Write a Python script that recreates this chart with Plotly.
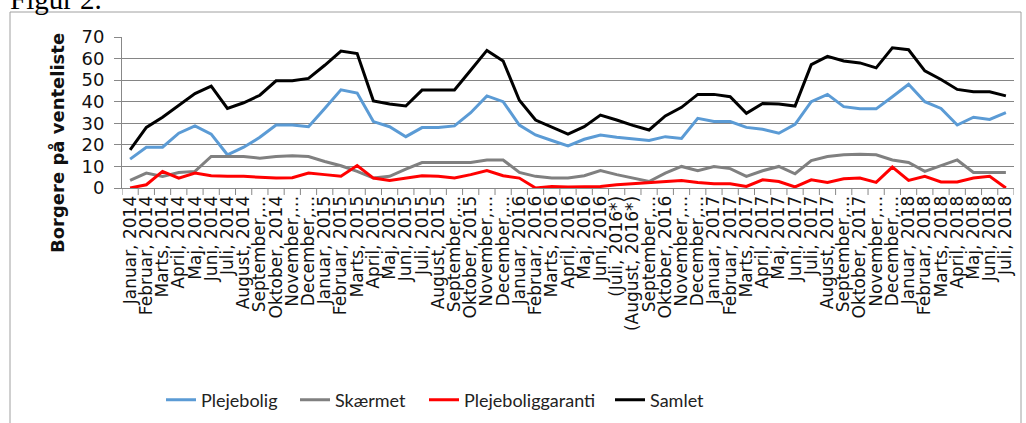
import plotly.graph_objects as go

categories = [
    "Januar, 2014", "Februar, 2014", "Marts, 2014", "April, 2014", "Maj, 2014", "Juni, 2014",
    "Juli, 2014", "August, 2014", "September,…", "Oktober, 2014", "November,…", "December,…",
    "Januar, 2015", "Februar, 2015", "Marts, 2015", "April, 2015", "Maj, 2015", "Juni, 2015",
    "Juli, 2015", "August, 2015", "September,…", "Oktober, 2015", "November,…", "December,…",
    "Januar, 2016", "Februar, 2016", "Marts, 2016", "April, 2016", "Maj, 2016", "Juni, 2016",
    "(Juli, 2016*)", "(August, 2016*)", "September,…", "Oktober, 2016", "November,…", "December,…",
    "Januar, 2017", "Februar, 2017", "Marts, 2017", "April, 2017", "Maj, 2017", "Juni, 2017",
    "Juli, 2017", "August, 2017", "September,…", "Oktober, 2017", "November,…", "December,…",
    "Januar, 2018", "Februar, 2018", "Marts, 2018", "April, 2018", "Maj, 2018", "Juni, 2018",
    "Juli, 2018",
]
x_idx = list(range(len(categories)))

plejebolig = [13.4, 18.9, 18.9, 25.4, 28.8, 25.0, 15.4, 18.9, 23.5, 29.2, 29.2, 28.4,
              36.9, 45.5, 44.0, 30.8, 28.4, 23.8, 28.0, 28.1, 28.8, 34.9, 42.7, 40.0,
              29.2, 24.6, 22.0, 19.5, 22.6, 24.6, 23.5, 22.6, 22.0, 23.8, 23.0, 32.3,
              30.8, 30.8, 28.1, 27.2, 25.4, 29.5, 40.0, 43.4, 37.7, 36.7, 36.7, 42.3,
              48.1, 40.0, 36.9, 29.2, 32.8, 31.8, 34.9]
skaermet = [3.5, 6.9, 5.4, 7.2, 7.7, 14.6, 14.6, 14.6, 13.8, 14.6, 14.9, 14.6,
            12.3, 10.3, 7.7, 4.6, 5.4, 8.8, 11.8, 11.8, 11.8, 11.8, 13.0, 13.0,
            7.2, 5.4, 4.6, 4.6, 5.7, 8.1, 6.2, 4.6, 3.0, 6.9, 10.0, 8.0,
            10.0, 9.0, 5.4, 8.0, 10.0, 6.6, 12.7, 14.6, 15.4, 15.6, 15.4, 13.0,
            11.8, 7.7, 10.3, 13.0, 7.2, 7.2, 7.2]
garanti = [0.0, 1.5, 7.7, 4.6, 6.9, 5.7, 5.4, 5.4, 5.0, 4.6, 4.8, 6.9,
           6.2, 5.5, 10.4, 4.6, 3.5, 4.6, 5.7, 5.4, 4.6, 6.2, 8.1, 5.7,
           4.6, 0.0, 0.7, 0.5, 0.5, 0.7, 1.5, 2.0, 2.6, 3.0, 3.5, 2.6,
           2.0, 2.0, 0.7, 3.8, 3.0, 0.5, 3.8, 2.6, 4.3, 4.6, 2.6, 9.7,
           3.5, 5.4, 2.8, 2.8, 4.6, 5.4, 0.0]
samlet = [17.7, 28.1, 32.8, 38.4, 43.8, 47.2, 36.9, 39.5, 43.0, 49.7, 49.7, 50.8,
          56.9, 63.5, 62.3, 40.4, 38.9, 38.0, 45.4, 45.4, 45.4, 54.6, 63.8, 58.9,
          40.7, 31.5, 28.4, 25.0, 28.4, 33.8, 31.5, 29.0, 26.9, 33.4, 37.4, 43.4,
          43.4, 42.3, 34.6, 39.2, 38.9, 38.0, 57.2, 61.0, 58.9, 58.0, 55.7, 65.0,
          64.1, 54.3, 50.3, 45.7, 44.6, 44.6, 42.7]

y_ticks = [0, 10, 20, 30, 40, 50, 60, 70]

series_names = ["Plejebolig", "Skærmet", "Plejeboliggaranti", "Samlet"]
series_values = [plejebolig, skaermet, garanti, samlet]
series_colors = ["#5B9BD5", "#808080", "#FF0000", "#000000"]

W, H = 1026, 423
ML, MR, MT, MB = 122, 12, 37, 235
pw = W - ML - MR
ph = H - MT - MB

def px2x(px):
    return (px - ML) / pw

def py2y(py):
    return (H - MB - py) / ph

legend_px = [161, 295, 424, 610]
legend_ids = ["legend", "legend2", "legend3", "legend4"]

fig = go.Figure()
for name, vals, col, lid in zip(series_names, series_values, series_colors, legend_ids):
    fig.add_trace(go.Scatter(x=x_idx, y=vals, name=name, mode="lines",
                             line=dict(color=col, width=3), legend=lid))

legend_layout = {}
for lid, lx in zip(legend_ids, legend_px):
    legend_layout[lid] = dict(orientation="h", x=px2x(lx), xanchor="left",
                              yref="container", y=(H - 400) / H, yanchor="middle",
                              font=dict(family="Lato", size=18, color="#222"),
                              bgcolor="rgba(0,0,0,0)")

fig.update_layout(
    template="none",
    width=W, height=H,
    margin=dict(l=ML, r=MR, t=MT, b=MB, autoexpand=False),
    paper_bgcolor="white", plot_bgcolor="white",
    showlegend=True,
    xaxis=dict(
        type="linear", range=[-0.5, len(categories) - 0.5], automargin=False,
        tickmode="array", tickvals=x_idx, ticktext=categories,
        tickangle=-90, tickfont=dict(family="DejaVu Sans", size=17, color="#111"),
        showgrid=False, zeroline=False,
        showline=True, linecolor="#888", linewidth=1,
        ticks="",
    ),
    yaxis=dict(
        range=[0, 70], tickmode="array", tickvals=y_ticks, automargin=False,
        tickfont=dict(family="DejaVu Sans", size=18, color="#111"),
        showgrid=True, gridcolor="#858585", gridwidth=1,
        zeroline=False, showline=True, linecolor="#888", linewidth=1,
        ticks="outside", ticklen=7, tickcolor="#888", ticklabelstandoff=6,
    ),
    **legend_layout,
)

# tick marks between categories on the x axis
for b in range(len(categories) + 1):
    fig.add_shape(type="line", xref="x", yref="paper", x0=b - 0.5, x1=b - 0.5,
                  y0=0, y1=-7 / ph, line=dict(color="#888", width=1))

# y axis title
fig.add_annotation(text="<b>Borgere på venteliste</b>", xref="paper", yref="paper",
                   x=px2x(57), y=py2y(143), xanchor="center", yanchor="middle",
                   textangle=-90, showarrow=False,
                   font=dict(family="DejaVu Sans", size=18, color="#111"))

# outer frame
fig.add_shape(type="rect", xref="paper", yref="paper",
              x0=px2x(10), x1=px2x(1021), y0=py2y(440), y1=py2y(12),
              line=dict(color="#a0a0a0", width=1), fillcolor="rgba(0,0,0,0)", layer="below")

# partially visible caption above the frame
fig.add_annotation(text="Figur 2.", xref="paper", yref="paper",
                   x=px2x(8), y=py2y(17), xanchor="left", yanchor="bottom", showarrow=False,
                   font=dict(family="Liberation Serif", size=29, color="#000"))

fig.write_html("out.html", config={"displayModeBar": False},
               post_script="document.body.style.margin='0';")
